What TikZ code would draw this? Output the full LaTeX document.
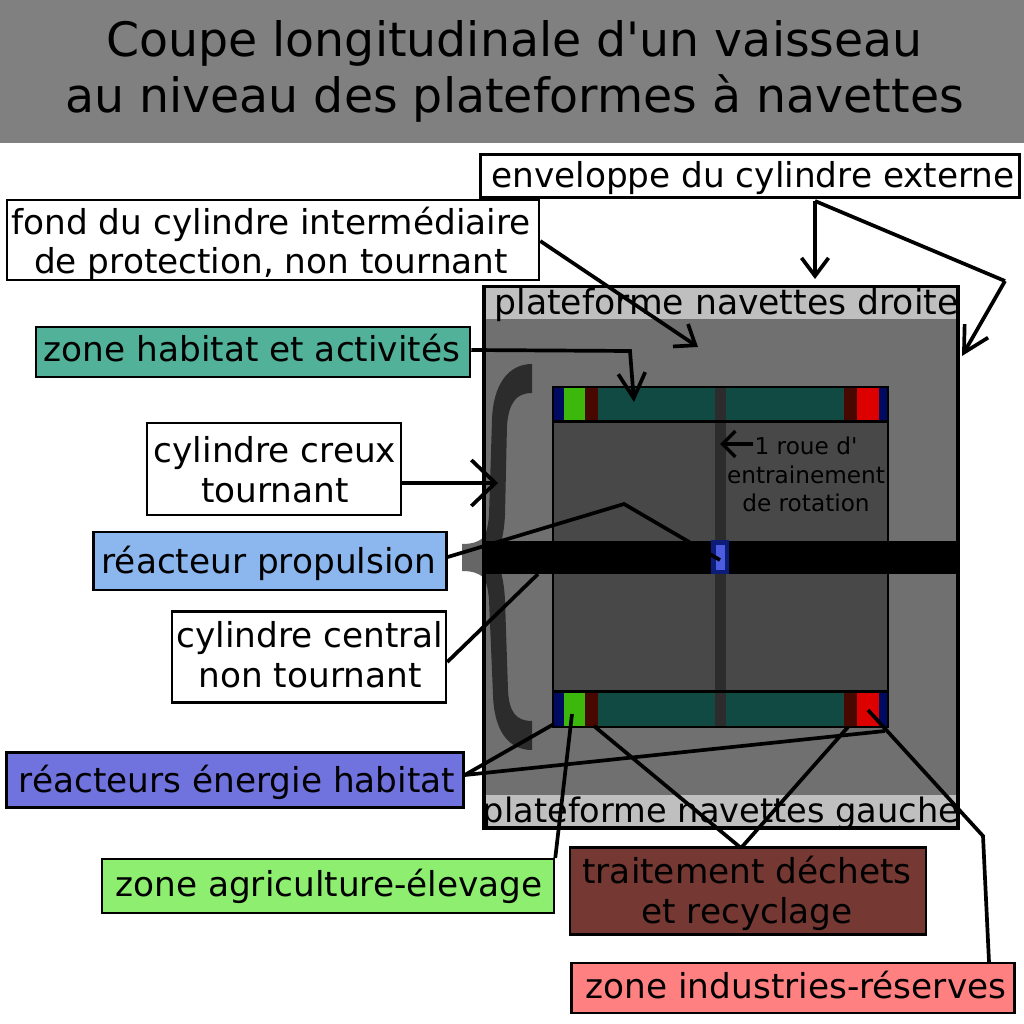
\documentclass[tikz,border=0pt]{standalone}
\usepackage{fontspec}
\setmainfont{DejaVu Sans}
\newfontfamily\plainapos{DejaVu Sans}
\usetikzlibrary{arrows.meta}
\definecolor{shell}{HTML}{707070}
\definecolor{inner}{HTML}{484848}
\definecolor{teal}{HTML}{104A42}
\definecolor{navyb}{HTML}{000A60}
\definecolor{greenb}{HTML}{3CB80C}
\definecolor{maroon}{HTML}{470800}
\definecolor{redb}{HTML}{DC0000}
\definecolor{wheel}{HTML}{2C2C2C}
\definecolor{reactout}{HTML}{0C1C78}
\definecolor{reactin}{HTML}{4B5CE0}
\newcommand{\ys}[3]{\leavevmode\kern#1\raisebox{#2}[\height][\depth]{\begin{tabular}{@{}c@{}}#3\end{tabular}}\kern-#1\relax}
\tikzset{
 lbl/.style={draw=black,line width=2.5pt,align=center,font=\fontsize{34.3}{40}\selectfont,inner sep=0pt,text=black,anchor=center},
 conn/.style={draw=black,line width=3.7pt},
 arr/.style={conn,-{Straight Barb[length=18pt,width=27pt,line width=3.7pt]}},
 arrlong/.style={conn,-{Straight Barb[length=25pt,width=27pt,line width=3.7pt]}},
 arrwide/.style={conn,-{Straight Barb[length=24pt,width=46pt,line width=3.7pt]}},
}
\begin{document}
\begin{tikzpicture}[x=1pt,y=-1pt]
\useasboundingbox (0,0) rectangle (1024,1024);
\fill[white] (0,0) rectangle (1024,1024);
% title
\fill[black!50] (0,0) rectangle (1024,143);
\node[font=\fontsize{47.4}{56}\selectfont,align=center,text=black,inner sep=0pt] (title) at (514.5,71.5) {Coupe longitudinale d{\plainapos '}un vaisseau\\au niveau des plateformes à navettes};
% hull
\fill[shell] (484,286.5) rectangle (958,828);
\fill[black!25] (484,286.5) rectangle (958,319);
\fill[black!25] (484,795) rectangle (958,828);
\node[font=\fontsize{34.6}{38}\selectfont,inner sep=0pt] (pd) at (726.5,305) {plateforme navettes droite};
\node[font=\fontsize{33.6}{38}\selectfont,inner sep=0pt] (pg) at (721,813) {plateforme navettes gauche};
\draw[line width=3.2pt] (484,286.5) rectangle (958,828);
% brace
\fill[black,opacity=.6] (532,364) .. controls (508,364) and (493,385) .. (492,420)
 -- (489,515) .. controls (488,528) and (486,534) .. (483,538)
 .. controls (478,542) and (472,544) .. (462,544)
 -- (462,571) .. controls (472,571) and (478,573) .. (483,577)
 .. controls (486,581) and (488,587) .. (489,600)
 -- (493,695) .. controls (494,730) and (508,750) .. (532,750)
 -- (532,721) .. controls (516,721) and (509,712) .. (508,690)
 -- (505,600) .. controls (504,580) and (500,565) .. (495,557.5)
 .. controls (500,550) and (504,535) .. (505,515)
 -- (507,425) .. controls (509,403) and (516,393) .. (532,393) -- cycle;
% inner rotating cylinder
\fill[inner] (553,387) rectangle (888,727);
\foreach \ya/\yb in {388/421,692/726}{
 \fill[teal] (553,\ya) rectangle (888,\yb);
 \fill[navyb] (553,\ya) rectangle (564,\yb);
 \fill[greenb] (564,\ya) rectangle (585,\yb);
 \fill[maroon] (585,\ya) rectangle (598,\yb);
 \fill[maroon] (844,\ya) rectangle (857,\yb);
 \fill[redb] (857,\ya) rectangle (879,\yb);
 \fill[navyb] (879,\ya) rectangle (888,\yb);
}
\fill[wheel] (715,387) rectangle (726,727);
\draw[line width=2.5pt] (553,387) rectangle (888,727);
\draw[line width=2.5pt] (553,421.5) -- (888,421.5) (553,691.5) -- (888,691.5);
% central cylinder
\fill[black] (484,541) rectangle (958,574);
\fill[reactout] (711,540) rectangle (729,574);
\fill[reactin] (716,545) rectangle (725,570);
% roue label
\node[font=\fontsize{23.2}{28.2}\selectfont,align=center,text=black,inner sep=0pt] (roue) at (806,474.5) {1 roue d{\plainapos '}\\entrainement\\de rotation};
% labels
\node[lbl,fill=white,minimum width=539pt,minimum height=43pt] (env) at (750,176) {\ys{3pt}{-4pt}{enveloppe du cylindre externe}};
\node[lbl,fill=white,minimum width=532pt,minimum height=79pt] (fond) at (273,240) {\ys{-2pt}{-6pt}{fond du cylindre intermédiaire\\de protection, non tournant}};
\node[lbl,fill={rgb,255:red,82;green,178;blue,153},minimum width=434pt,minimum height=50pt] (hab) at (253,352) {\ys{-1pt}{-1pt}{zone habitat et activités}};
\node[lbl,fill=white,minimum width=254pt,minimum height=92pt] (creux) at (274,469) {\ys{1pt}{-5pt}{cylindre creux\\tournant}};
\node[lbl,fill={rgb,255:red,140;green,182;blue,238},minimum width=353pt,minimum height=58pt] (prop) at (270,561) {\ys{-1pt}{-4pt}{réacteur propulsion}};
\node[lbl,fill=white,minimum width=274pt,minimum height=91pt] (centr) at (309,657) {\ys{1pt}{-2pt}{cylindre central\\non tournant}};
\node[lbl,fill={rgb,255:red,112;green,114;blue,222},minimum width=457pt,minimum height=55pt] (ener) at (235,780) {\ys{2pt}{-4pt}{réacteurs énergie habitat}};
\node[lbl,fill={rgb,255:red,141;green,238;blue,112},minimum width=452pt,minimum height=54pt] (agri) at (328,886) {\ys{1pt}{-2pt}{zone agriculture-élevage}};
\node[lbl,fill={rgb,255:red,117;green,56;blue,50},minimum width=356pt,minimum height=87pt] (dech) at (748,891) {\ys{-1pt}{-4pt}{traitement déchets\\et recyclage}};
\node[lbl,fill={rgb,255:red,255;green,128;blue,128},minimum width=443pt,minimum height=50pt] (indus) at (793,988) {\ys{3pt}{-2pt}{zone industries-réserves}};
% coordinates for connector ends
\coordinate (envfork) at (815,201);
\coordinate (envA) at (815,279);
\coordinate (envB) at (1005,281);
\coordinate (envC) at (962,356);
\coordinate (fondEnd) at (698,347);
\coordinate (habBend) at (630,351);
\coordinate (habEnd) at (634,402);
\coordinate (creuxEnd) at (498,483);
\coordinate (propBend) at (624,504);
\coordinate (propEnd) at (720,560);
\coordinate (centrEnd) at (538,574);
\coordinate (enA) at (554,724);
\coordinate (enB) at (885,731);
\coordinate (agrA) at (572,714);
\coordinate (dechJ) at (741,848);
\coordinate (dechA) at (594,726);
\coordinate (dechB) at (848,727);
\coordinate (indBend) at (983,836);
\coordinate (indEnd) at (868,710);
\coordinate (roueEnd) at (720,444);
% connectors
\draw[arr] (envfork) -- (envA);
\draw[conn] (envfork) -- (envB);
\draw[arrlong] (envB) -- (envC);
\draw[arr] (fond.east |- 0,241) -- (fondEnd);
\draw[arrlong] (hab.east |- 0,350) -- (habBend) -- (habEnd);
\draw[arrwide] (creux.east |- 0,483) -- (creuxEnd);
\draw[conn] (prop.east |- 0,557) -- (propBend) -- (propEnd);
\draw[conn] (centr.east |- 0,662) -- (centrEnd);
\draw[conn] (ener.east |- 0,775) -- (enA);
\draw[conn] (ener.east |- 0,775) -- (enB);
\draw[conn] (agri.east |- 0,858) -- (agrA);
\draw[conn] (dechJ) -- (dechA);
\draw[conn] (dechJ) -- (dechB);
\draw[conn] (indus.north |- 0,962) ++(196,0) -- (indBend) -- (indEnd);
\draw[black,line width=3.5pt,-{Straight Barb[length=13pt,width=26pt,line width=3.5pt]}] (753,444) -- (roueEnd);
\end{tikzpicture}
\end{document}
